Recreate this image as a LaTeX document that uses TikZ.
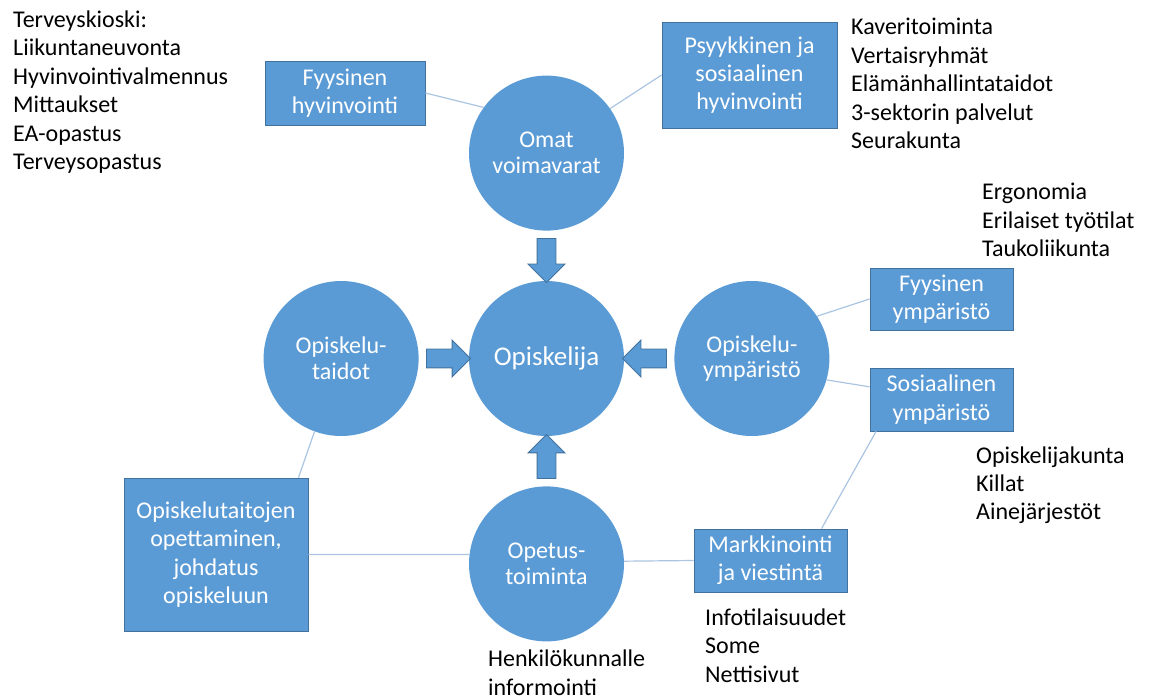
\documentclass[tikz,border=0pt]{standalone}
\usepackage{fontspec}
\setmainfont{Carlito}
\usetikzlibrary{shapes.arrows, positioning, calc}
\definecolor{ballblue}{HTML}{5B9BD5}
\definecolor{edgeblue}{HTML}{41719C}
\definecolor{linkblue}{HTML}{AAC4E2}

\begin{document}
\begin{tikzpicture}[x=1pt, y=-1pt, node distance=50pt]
    \tikzset{
        ball/.style = {circle, fill=ballblue, text=white, minimum size=155pt, inner sep=0pt,
                       align=center, font=\fontsize{24}{25.7}\selectfont},
        box/.style = {rectangle, fill=ballblue, draw=edgeblue, line width=0.8pt, text=white,
                      align=center, inner sep=0pt, font=\fontsize{24}{28.3}\selectfont},
        flow/.style = {single arrow, fill=ballblue, draw=edgeblue, line width=0.8pt,
                       minimum height=44pt, inner xsep=0pt, inner ysep=9pt,
                       single arrow head extend=9pt},
        link/.style = {draw=linkblue, line width=1.2pt},
        list/.style = {align=left, inner sep=0pt, anchor=base west,
                       font=\fontsize{24}{28.5}\selectfont}
    }
    \useasboundingbox (0,0) rectangle (1152,700);

    % ympyrät
    \node [ball, font=\fontsize{27}{30}\selectfont] (opiskelija) at (546.5,358.5) {Opiskelija};
    \node [ball, above=of opiskelija] (omat) {Omat\\voimavarat};
    \node [ball, left=of opiskelija] (taidot) {Opiskelu-\\taidot};
    \node [ball, right=of opiskelija] (ymp) {Opiskelu-\\ympäristö};
    \node [ball, below=of opiskelija] (opetus) {Opetus-\\toiminta};

    % nuolet keskelle
    \node [flow, rotate=-90] (n1) at ($(omat.south)!0.5!(opiskelija.north)$) {};
    \node [flow] (n2) at ($(taidot.east)!0.5!(opiskelija.west)$) {};
    \node [flow, rotate=180] (n3) at ($(ymp.west)!0.5!(opiskelija.east)$) {};
    \node [flow, rotate=90] (n4) at ($(opetus.north)!0.5!(opiskelija.south)$) {};

    % laatikot
    \node [box, minimum width=160pt, minimum height=64pt] (fyshyv) at (345,93) {Fyysinen\\hyvinvointi};
    \node [box, minimum width=175pt, minimum height=106pt] (psyk) at (749.5,75) {Psyykkinen ja\\sosiaalinen\\hyvinvointi};
    \node [box, minimum width=143pt, minimum height=62pt] (fysymp) at (941.5,299) {Fyysinen\\ympäristö};
    \node [box, minimum width=143pt, minimum height=63pt] (sosymp) at (941.5,399.5) {Sosiaalinen\\ympäristö};
    \node [box, minimum width=184pt, minimum height=153pt] (taitobox) at (216,554.5) {Opiskelutaitojen\\opettaminen,\\johdatus\\opiskeluun};
    \node [box, minimum width=153pt, minimum height=63pt] (mark) at (770.5,560.5) {Markkinointi\\ja viestintä};

    % listat (kohta = viimeisen rivin perusviiva)
    \node [list] (terveys) at (13,170) {Terveyskioski:\\Liikuntaneuvonta\\Hyvinvointivalmennus\\Mittaukset\\EA-opastus\\Terveysopastus};
    \node [list] (kaveri) at (851,149) {Kaveritoiminta\\Vertaisryhmät\\Elämänhallintataidot\\3-sektorin palvelut\\Seurakunta};
    \node [list] (ergo) at (982,257) {Ergonomia\\Erilaiset työtilat\\Taukoliikunta};
    \node [list] (kunta) at (976,520) {Opiskelijakunta\\Killat\\Ainejärjestöt};
    \node [list] (info) at (705,682) {Infotilaisuudet\\Some\\Nettisivut};
    \node [list] (henk) at (488,695) {Henkilökunnalle\\informointi};

    % yhteysviivat
    \draw [link] (fyshyv.east) -- (omat.144);
    \draw [link] (psyk.west) -- (omat.35);
    \draw [link] (fysymp.west) -- (ymp.33);
    \draw [link] (sosymp.170) -- (ymp.-16);
    \draw [link] (sosymp.206) -- (mark.32);
    \draw [link] (taidot.250) -- (taitobox.43);
    \draw [link] (taitobox.east) -- (opetus.173);
    \draw [link] (opetus.2) -- (mark.west);
\end{tikzpicture}
\end{document}
